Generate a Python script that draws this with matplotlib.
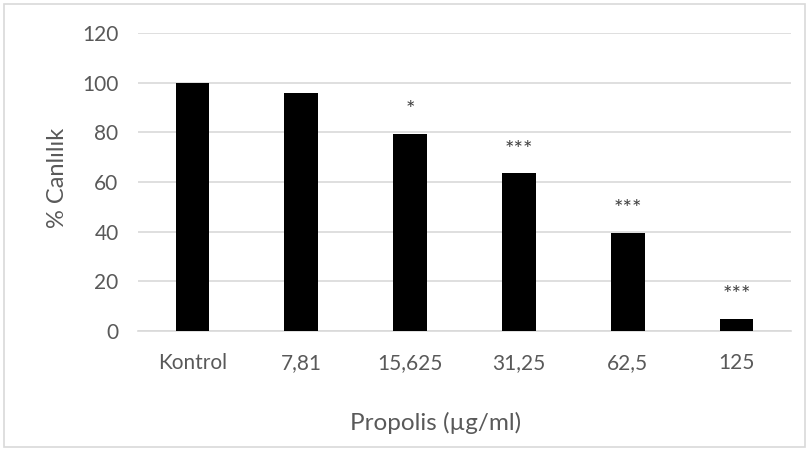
import matplotlib.pyplot as plt
from matplotlib.patches import Rectangle

# values
categories = ["Kontrol", "7,81", "15,625", "31,25", "62,5", "125"]
viability = [100, 96, 79.5, 63.5, 39.5, 5]
stars = ["", "", "*", "***", "***", "***"]
y_ticks = [0, 20, 40, 60, 80, 100, 120]

plt.rcParams['font.family'] = ['Lato', 'DejaVu Sans']
text_grey = "#595959"
grid_grey = "#d9d9d9"

fig = plt.figure(figsize=(8.1, 4.5), dpi=100)
ax = fig.add_axes([138 / 810, 1 - 331 / 450, (791 - 138) / 810, (331 - 33) / 450])

x = range(len(categories))
ax.bar(x, viability, width=0.31, color="black", zorder=3)

# significance marks above the bars
for xi, v, s in zip(x, viability, stars):
    if s:
        ax.text(xi, v + 5.5, s, ha="center", va="bottom", fontsize=16, color="#404040")

ax.set_xlim(-0.5, len(categories) - 0.5)
ax.set_ylim(0, 120)
ax.set_yticks(y_ticks)
ax.set_xticks(list(x))
ax.set_xticklabels(categories)
ax.tick_params(axis="both", length=0, labelsize=15, colors=text_grey)
ax.tick_params(axis="y", pad=14)
ax.tick_params(axis="x", pad=16)
ax.grid(axis="y", color=grid_grey, linewidth=1.2, zorder=0)
for side in ["top", "right", "left"]:
    ax.spines[side].set_visible(False)
ax.spines["bottom"].set_color(grid_grey)
ax.spines["bottom"].set_linewidth(1.2)

ax.set_ylabel("% Canlılık", fontsize=17, color=text_grey)
ax.yaxis.set_label_coords(-0.107, 0.513)
ax.set_xlabel("Propolis (µg/ml)", fontsize=17.5, color=text_grey)
ax.xaxis.set_label_coords(0.456, -0.27)

# light outer frame like the exported chart
fig.patches.append(Rectangle((4 / 810, 3 / 450), 801 / 810, 443 / 450, transform=fig.transFigure,
                             fill=False, edgecolor=grid_grey, linewidth=1.2))

fig.savefig("out.png", dpi=100)
